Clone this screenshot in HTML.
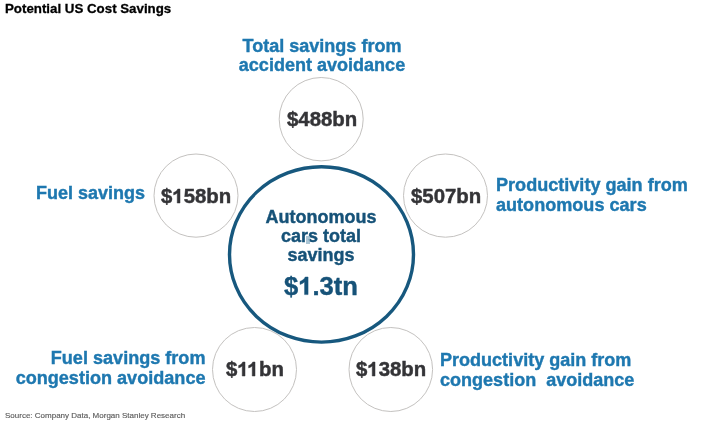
<!DOCTYPE html>
<html><head><meta charset="utf-8">
<style>
html,body{margin:0;padding:0;background:#fff;}
body{width:710px;height:430px;position:relative;overflow:hidden;font-family:"Liberation Sans",sans-serif;}
.t{position:absolute;white-space:nowrap;font-weight:bold;will-change:transform;}
.ctr{color:#165278;-webkit-text-stroke:0.4px #165278;}
.lbl{color:#1e78b0;font-size:18.08px;line-height:20px;-webkit-text-stroke:0.4px #1e78b0;}
.val{color:#343437;font-size:20.4px;line-height:24px;-webkit-text-stroke:0.45px #343437;}
svg.bg{position:absolute;left:0;top:0;}
svg.one{display:inline-block;width:0.5562em;height:0.688em;vertical-align:baseline;fill:currentColor;stroke:currentColor;stroke-width:0.45px;overflow:visible;}
svg.one path{vector-effect:non-scaling-stroke;}
</style></head><body>
<svg class="bg" width="710" height="430" viewBox="0 0 710 430">
  <g fill="#fff" stroke="#c4c2c0" stroke-width="1">
    <ellipse cx="321.2" cy="119.2" rx="42" ry="41.7"/>
    <ellipse cx="196" cy="195.6" rx="42" ry="41.6"/>
    <ellipse cx="445.5" cy="195.6" rx="42" ry="41.6"/>
    <ellipse cx="254.5" cy="369.5" rx="42" ry="42"/>
    <ellipse cx="390.8" cy="369.5" rx="41.8" ry="42"/>
  </g>
  <ellipse cx="321.5" cy="254.4" rx="92" ry="87.7" fill="#fff" stroke="#17587e" stroke-width="3.4"/>
</svg>
<div class="t" style="left:5px;top:1px;font-size:13.3px;line-height:15px;color:#000;-webkit-text-stroke:0.3px #000;">Potential US Cost Savings</div>

<div class="t lbl" style="left:221.5px;top:37px;width:200px;text-align:center;line-height:19px;font-size:18.05px;">Total savings from<br>accident avoidance</div>
<div class="t lbl" style="left:35.7px;top:183px;font-size:18px;">Fuel savings</div>
<div class="t lbl" style="left:496.2px;top:175px;">Productivity gain from<br>autonomous cars</div>
<div class="t lbl" style="left:0px;top:348px;width:205.5px;text-align:right;">Fuel savings from<br>congestion avoidance</div>
<div class="t lbl" style="left:440.1px;top:350px;font-size:18.04px;">Productivity gain from<br>congestion&nbsp; avoidance</div>

<div class="t val" style="left:286.9px;top:107px;">$488bn</div>
<div class="t val" style="left:160.6px;top:184px;">$<svg class="one" viewBox="0 0 1139 1472" preserveAspectRatio="none"><path d="M806 1472H525V413Q371 557 162 626V371Q272 335 401 234.500Q530 134 578 0H806Z"/></svg>58bn</div>
<div class="t val" style="left:410.6px;top:184px;">$507bn</div>
<div class="t val" style="left:226px;top:357px;">$<svg class="one" viewBox="0 0 1139 1472" preserveAspectRatio="none"><path d="M806 1472H525V413Q371 557 162 626V371Q272 335 401 234.500Q530 134 578 0H806Z"/></svg><svg class="one" style="margin-left:-0.085em;margin-right:0.03em" viewBox="0 0 1139 1472" preserveAspectRatio="none"><path d="M806 1472H525V413Q371 557 162 626V371Q272 335 401 234.500Q530 134 578 0H806Z"/></svg>bn</div>
<div class="t val" style="left:355.7px;top:357px;">$<svg class="one" viewBox="0 0 1139 1472" preserveAspectRatio="none"><path d="M806 1472H525V413Q371 557 162 626V371Q272 335 401 234.500Q530 134 578 0H806Z"/></svg>38bn</div>

<div class="t ctr" style="left:221px;top:208px;width:200px;text-align:center;color:#165278;font-size:18px;line-height:19px;">Autonomous<br>cars total<br>savings</div>
<div style="position:absolute;left:306px;top:236px;width:4px;height:8px;background:#8fb2c6;opacity:0.75;will-change:transform;"></div>
<div class="t ctr" style="left:221.3px;top:271px;width:200px;text-align:center;color:#165278;font-size:25.6px;line-height:30px;">$<svg class="one" viewBox="0 0 1139 1472" preserveAspectRatio="none"><path d="M806 1472H525V413Q371 557 162 626V371Q272 335 401 234.500Q530 134 578 0H806Z"/></svg>.3tn</div>

<div class="t" style="left:5px;top:411px;font-size:8px;line-height:10px;color:#5c5c5c;font-weight:normal;-webkit-text-stroke:0.15px #5c5c5c;">Source: Company Data, Morgan Stanley Research</div>
</body></html>
